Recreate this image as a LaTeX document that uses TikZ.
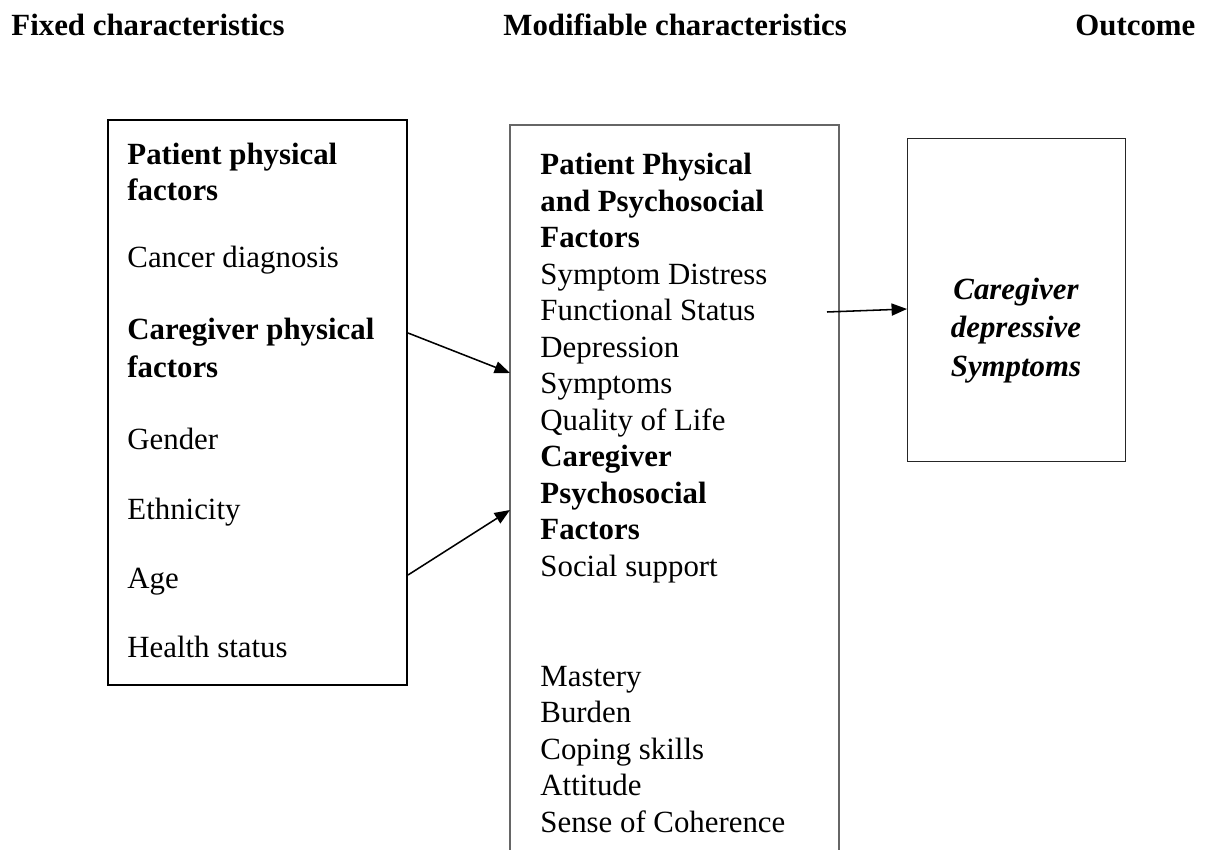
\documentclass[tikz,border=0pt]{standalone}
\usepackage{fontspec}
\setmainfont{Liberation Serif}
\usetikzlibrary{arrows.meta}
\begin{document}
\begin{tikzpicture}[x=0.454pt,y=-0.454pt,
  txt/.style={anchor=base west,inner sep=0pt,font=\fontsize{14}{16.6}\selectfont},
  btxt/.style={txt,font=\fontsize{14}{16.6}\selectfont\bfseries},
  itxt/.style={anchor=base,inner sep=0pt,font=\fontsize{14}{16.6}\selectfont\bfseries\itshape},
  boxshape/.style={draw=none,inner sep=0pt,anchor=north west},
  conn/.style={line width=0.7pt,-{Triangle[length=7pt,width=5.5pt]}}]
\useasboundingbox (0,0) rectangle (1210,850);
% headings
\node[btxt] (h1) at (11,36) {Fixed characteristics};
\node[btxt] (h2) at (503,36) {Modifiable characteristics};
\node[btxt] (h3) at (1075,36) {Outcome};
% left box
\node[boxshape,draw=black,line width=1pt,minimum width=299*0.454pt,minimum height=565*0.454pt] (L) at (107,119) {};
\node[btxt] (l1) at (127,165) {Patient physical};
\node[btxt] (l2) at (127,201) {factors};
\node[txt] (l3) at (127,268) {Cancer diagnosis};
\node[btxt] (l4) at (127,340) {Caregiver physical};
\node[btxt] (l5) at (127,378) {factors};
\node[txt] (l6) at (127,450) {Gender};
\node[txt] (l7) at (127,520) {Ethnicity};
\node[txt] (l8) at (127,588) {Age};
\node[txt] (l9) at (127,657) {Health status};
% middle box (open at bottom)
\node[boxshape,minimum width=328*0.454pt,minimum height=725*0.454pt] (M) at (510,125) {};
\draw[draw=black!60,line width=0.6pt] (M.south west) -- (M.north west) -- (M.north east) -- (M.south east);
\foreach \k/\t/\s in {0/Patient Physical/btxt,1/and Psychosocial/btxt,2/Factors/btxt,
  3/Symptom Distress/txt,4/Functional Status/txt,5/Depression/txt,6/Symptoms/txt,
  7/Quality of Life/txt,8/Caregiver/btxt,9/Psychosocial/btxt,10/Factors/btxt,
  11/Social support/txt,14/Mastery/txt,15/Burden/txt,16/Coping skills/txt,
  17/Attitude/txt,18/Sense of Coherence/txt}
  \node[\s] (m\k) at (540,175+36.5*\k) {\t};
% right box
\node[boxshape,draw=black!85,line width=0.6pt,minimum width=218*0.454pt,minimum height=323*0.454pt] (R) at (907,138) {};
\node[itxt] (r1) at (1016,300) {Caregiver};
\node[itxt] (r2) at (1016,338) {depressive};
\node[itxt] (r3) at (1016,377) {Symptoms};
% connectors
\coordinate (a1s) at (408,333);
\coordinate (a1e) at (510,373);
\coordinate (a2s) at (408,575);
\coordinate (a2e) at (510,510);
\coordinate (a3s) at (827,312);
\coordinate (a3e) at (907,309);
\draw[conn] (a1s) -- (a1e);
\draw[conn] (a2s) -- (a2e);
\draw[conn] (a3s) -- (a3e);
\end{tikzpicture}
\end{document}
